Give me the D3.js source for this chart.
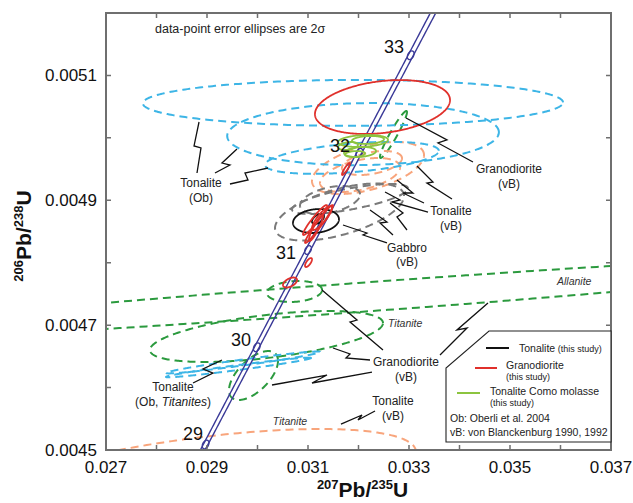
<!DOCTYPE html>
<html>
<head>
<meta charset="utf-8">
<script src="https://cdn.jsdelivr.net/npm/d3@7"></script>
<style>
  body { margin: 0; background: #fff; }
  svg { display: block; font-family: "Liberation Sans", Arial, Helvetica, sans-serif; }
</style>
</head>
<body>
<svg id="chart" width="633" height="503"></svg>
<script>
// ---- axes ----
const xDomain = [0.027, 0.037];
const yDomain = [0.0045, 0.0052];
const xTicksMajor = [0.027, 0.029, 0.031, 0.033, 0.035, 0.037];
const xTicksMinor = [0.028, 0.030, 0.032, 0.034, 0.036];
const yTicksMajor = [0.0045, 0.0047, 0.0049, 0.0051];
const yTicksMinor = [0.0046, 0.0048, 0.0050];

// ---- concordia ----
const concordiaAges = [29, 30, 31, 32, 33];          // Ma, labelled markers
const concordiaSpan = [28.5, 34.2];                  // Ma, drawn range
const lambda238 = 1.55125e-10, lambda235 = 9.8485e-10;
const lambdaEnvelope = 0.0016;                       // relative spread of the band

// ---- error ellipses: [207Pb/235U, 206Pb/238U, half-width x, half-width y, rho] ----
const tonaliteOb = [
  [0.03189, 0.005056, 0.00416, 0.0000368, 0.02],
  [0.03209, 0.005006, 0.00269, 0.0000497, 0.06],
  [0.03187, 0.004968, 0.00172, 0.0000256, 0.44]
];
const tonaliteObTitanite = [
  [0.029713, 0.0046402, 0.001525, 0.0000175, 0.962],
  [0.029624, 0.0046322, 0.001436, 0.0000157, 0.967]
];
const granodioriteVB = [
  [0.032693, 0.0050054, 0.000267, 0.0000376, 0.95],
  [0.030733, 0.0047539, 0.000545, 0.0000168, 0.15],
  [0.029921, 0.0046193, 0.000485, 0.0000392, 0.60],
  [0.030178, 0.0046818, 0.002307, 0.0000408, 0.53],   // titanite
  [0.031990, 0.0047443, 0.011188, 0.0000700, 0.943]   // allanite
];
const tonaliteVB = [
  [0.032188, 0.0049517, 0.001109, 0.0000416, 0.50],
  [0.032030, 0.0049405, 0.000792, 0.0000272, 0.45],
  [0.032267, 0.0049597, 0.000594, 0.0000192, 0.40],
  [0.028386, 0.0044415, 0.004752, 0.0000921, 0.60]    // titanite
];
const gabbroVB = [
  [0.031624, 0.0048812, 0.001277, 0.0000457, 0.56],
  [0.031832, 0.0049021, 0.001149, 0.0000240, 0.70],
  [0.031436, 0.0049005, 0.000594, 0.0000224, 0.40]
];
const tonaliteThisStudy = [
  [0.031158, 0.0048668, 0.000455, 0.0000192, 0.15],
  [0.031198, 0.0048700, 0.000119, 0.0000080, 0.50]
];
const granodioriteThisStudy = [
  [0.032475, 0.0050494, 0.001337, 0.0000432, 0.26],
  [0.031218, 0.0048620, 0.000277, 0.0000304, 0.97],
  [0.031139, 0.0048684, 0.000238, 0.0000240, 0.95],
  [0.031158, 0.0048556, 0.000139, 0.0000208, 0.90],
  [0.031277, 0.0048716, 0.000198, 0.0000192, 0.85],
  [0.031752, 0.0049501, 0.000079, 0.0000096, 0.90],
  [0.031010, 0.0048003, 0.000069, 0.0000072, 0.70],
  [0.030644, 0.0047683, 0.000139, 0.0000080, 0.50]
];
const comoMolasse = [
  [0.032089, 0.0049950, 0.000495, 0.0000096, 0.2],
  [0.032188, 0.0049966, 0.000317, 0.0000064, 0.2],
  [0.032030, 0.0049773, 0.000317, 0.0000080, 0.2],
  [0.031931, 0.0049741, 0.000198, 0.0000048, 0.2],
  [0.031792, 0.0049870, 0.000198, 0.0000064, 0.3]
];

// ---- annotation leaders (zig-zag), in ratio units ----
const leaders = [
  [[0.028842,0.0050254],[0.028743,0.0049870],[0.028881,0.0049838],[0.028802,0.0049437]],
  [[0.029594,0.0049822],[0.029297,0.0049597],[0.029455,0.0049565],[0.029158,0.0049437]],
  [[0.030208,0.0049517],[0.029752,0.0049437],[0.029812,0.0049325],[0.029455,0.0049261]],
  [[0.032941,0.0050318],[0.033752,0.0049966],[0.033574,0.0049918],[0.034267,0.0049613]],
  [[0.033158,0.0049549],[0.033475,0.0049293],[0.033356,0.0049277],[0.033851,0.0049021]],
  [[0.032762,0.0049325],[0.033079,0.0049117],[0.032881,0.0049117],[0.033297,0.0048957]],
  [[0.032525,0.0049133],[0.032822,0.0049005],[0.032663,0.0048973],[0.033376,0.0048812]],
  [[0.031693,0.0048604],[0.032168,0.0048476],[0.032089,0.0048444],[0.032564,0.0048316]],
  [[0.032228,0.0048844],[0.032564,0.0048652],[0.032426,0.0048636],[0.032683,0.0048444]],
  [[0.032624,0.0048957],[0.032881,0.0048796],[0.032762,0.0048732],[0.032960,0.0048524]],
  [[0.031277,0.0047563],[0.031970,0.0047082],[0.031832,0.0047050],[0.032485,0.0046602]],
  [[0.034564,0.0047355],[0.033950,0.0046922],[0.034149,0.0046954],[0.033614,0.0046522]],
  [[0.031495,0.0046634],[0.031832,0.0046538],[0.031752,0.0046474],[0.032228,0.0046442]],
  [[0.030287,0.0046041],[0.031376,0.0046201],[0.031079,0.0046073],[0.032267,0.0046249]],
  [[0.031653,0.0045416],[0.032069,0.0045561],[0.031990,0.0045481],[0.032327,0.0045625]],
  [[0.029297,0.0046442],[0.028921,0.0046297],[0.029119,0.0046233],[0.028723,0.0046073]]
];

// ---- sample labels (centred) ----
const sampleLabels = [
  ["Tonalite", 0.028881, 0.0049213], ["(Ob)", 0.028881, 0.0048973],
  ["Granodiorite", 0.034980, 0.0049437], ["(vB)", 0.034980, 0.0049197],
  ["Tonalite", 0.033832, 0.0048764], ["(vB)", 0.033832, 0.0048524],
  ["Gabbro", 0.032960, 0.0048172], ["(vB)", 0.032960, 0.0047947],
  ["Granodiorite", 0.032941, 0.0046346], ["(vB)", 0.032941, 0.0046105],
  ["Tonalite", 0.032683, 0.0045721], ["(vB)", 0.032683, 0.0045481],
  ["Tonalite", 0.028327, 0.0045945]
];
const mineralLabels = [
  ["Allanite", 0.035931, 0.0047643, "start"],
  ["Titanite", 0.032584, 0.0046970, "start"],
  ["Titanite", 0.030644, 0.0045400, "middle"]
];
const ageLabelPos = [
  [0.028921, 0.0045160], [0.029871, 0.0046666], [0.030762, 0.0048059],
  [0.031832, 0.0049773], [0.032901, 0.0051359]
];

// ---- layout ----
const margin = { left: 106, right: 22, top: 13, bottom: 53 };
const W = 633, H = 503;
const svg = d3.select("#chart");
const x = d3.scaleLinear().domain(xDomain).range([margin.left, W - margin.right]);
const y = d3.scaleLinear().domain(yDomain).range([H - margin.bottom, margin.top]);

const BLUE = "#3db5e6", GREEN = "#2b9a3e", ORANGE = "#f8a57c", GRAY = "#7a7a7a",
      RED = "#e0302b", LIME = "#8cc43f", NAVY = "#3b3a98", FRAME = "#6f6f6f";

svg.append("defs").append("clipPath").attr("id", "plotClip")
  .append("rect")
  .attr("x", x(xDomain[0])).attr("y", y(yDomain[1]))
  .attr("width", x(xDomain[1]) - x(xDomain[0]))
  .attr("height", y(yDomain[0]) - y(yDomain[1]));

function ellipsePoints([cx, cy, sx, sy, rho], n = 360) {
  const k = Math.sqrt(1 - rho * rho);
  return d3.range(n).map(i => {
    const t = 2 * Math.PI * i / n;
    return [cx + sx * Math.cos(t), cy + sy * (rho * Math.cos(t) + k * Math.sin(t))];
  });
}
const closed = d3.line().x(d => x(d[0])).y(d => y(d[1])).curve(d3.curveLinearClosed);
const open = d3.line().x(d => x(d[0])).y(d => y(d[1]));

const plot = svg.append("g").attr("clip-path", "url(#plotClip)");

function drawEllipses(data, color, dashed, width) {
  plot.append("g").selectAll("path").data(data).join("path")
    .attr("d", d => closed(ellipsePoints(d)))
    .attr("fill", "none")
    .attr("stroke", color)
    .attr("stroke-width", width)
    .attr("stroke-dasharray", dashed ? "8,5" : null);
}

// dashed literature data
drawEllipses(granodioriteVB, GREEN, true, 2);
drawEllipses(tonaliteVB, ORANGE, true, 2);
drawEllipses(gabbroVB, GRAY, true, 2);
drawEllipses(tonaliteOb, BLUE, true, 2);
drawEllipses(tonaliteObTitanite, BLUE, true, 2);

// concordia band
const conc = t => [Math.expm1(lambda235 * t * 1e6), Math.expm1(lambda238 * t * 1e6)];
const tSeries = d3.range(concordiaSpan[0], concordiaSpan[1], 0.02);
[-1, 1].forEach(s => {
  plot.append("path")
    .attr("d", open(tSeries.map(t => { const p = conc(t); return [p[0] * (1 + s * lambdaEnvelope), p[1]]; })))
    .attr("fill", "none").attr("stroke", NAVY).attr("stroke-width", 1.4);
});
// age markers, oriented along the curve
plot.append("g").selectAll("ellipse").data(concordiaAges).join("ellipse")
  .attr("transform", t => {
    const a = conc(t - 0.05), b = conc(t + 0.05), c = conc(t);
    const ang = Math.atan2(y(b[1]) - y(a[1]), x(b[0]) - x(a[0])) * 180 / Math.PI;
    return `translate(${x(c[0])},${y(c[1])}) rotate(${ang})`;
  })
  .attr("rx", 4.6).attr("ry", 2.9)
  .attr("fill", "none").attr("stroke", NAVY).attr("stroke-width", 1.4);

svg.append("g").selectAll("text").data(concordiaAges).join("text")
  .attr("x", (d, i) => x(ageLabelPos[i][0]))
  .attr("y", (d, i) => y(ageLabelPos[i][1]))
  .attr("text-anchor", "end").attr("font-size", 18).attr("fill", "#111")
  .text(d => d);

// this study
drawEllipses(tonaliteThisStudy, "#111", false, 1.8);
drawEllipses(granodioriteThisStudy, RED, false, 1.8);
drawEllipses(comoMolasse, LIME, false, 1.8);

// leaders
svg.append("g").selectAll("path").data(leaders).join("path")
  .attr("d", d => open(d))
  .attr("fill", "none").attr("stroke", "#111").attr("stroke-width", 1.3)
  .attr("stroke-linejoin", "miter");

// labels
svg.append("g").selectAll("text").data(sampleLabels).join("text")
  .attr("x", d => x(d[1])).attr("y", d => y(d[2]))
  .attr("text-anchor", "middle").attr("font-size", 12).attr("fill", "#222")
  .text(d => d[0]);
const obTit = svg.append("text")
  .attr("x", x(0.028327)).attr("y", y(0.0045705))
  .attr("text-anchor", "middle").attr("font-size", 12).attr("fill", "#222");
obTit.append("tspan").text("(Ob, ");
obTit.append("tspan").attr("font-style", "italic").text("Titanites");
obTit.append("tspan").text(")");

svg.append("g").selectAll("text").data(mineralLabels).join("text")
  .attr("x", d => x(d[1])).attr("y", d => y(d[2]))
  .attr("text-anchor", d => d[3]).attr("font-size", 10.5)
  .attr("font-style", "italic").attr("fill", "#333")
  .text(d => d[0]);

svg.append("text")
  .attr("x", x(0.027970)).attr("y", y(0.0051680))
  .attr("font-size", 12.5).attr("fill", "#222")
  .text("data-point error ellipses are 2σ");

// ---- frame & axes ----
const x0 = x(xDomain[0]), x1 = x(xDomain[1]), y0 = y(yDomain[0]), y1 = y(yDomain[1]);
const allX = xTicksMajor.concat(xTicksMinor), allY = yTicksMajor.concat(yTicksMinor);
const axisG = svg.append("g").attr("stroke", FRAME).attr("stroke-width", 1.5);
axisG.selectAll(".tb").data(allX).join("path")
  .attr("d", d => `M${x(d)},${y0}V${y0 - 5}M${x(d)},${y1}V${y1 + 5}`);
axisG.selectAll(".tl").data(allY).join("path")
  .attr("d", d => `M${x0},${y(d)}H${x0 + 5}M${x1},${y(d)}H${x1 - 5}`);
svg.append("rect")
  .attr("x", x0).attr("y", y1).attr("width", x1 - x0).attr("height", y0 - y1)
  .attr("fill", "none").attr("stroke", FRAME).attr("stroke-width", 2);

svg.append("g").selectAll("text").data(xTicksMajor).join("text")
  .attr("x", d => x(d)).attr("y", y0 + 23)
  .attr("text-anchor", "middle").attr("font-size", 17).attr("fill", "#111")
  .text(d3.format(".3f"));
svg.append("g").selectAll("text").data(yTicksMajor).join("text")
  .attr("x", x0 - 9).attr("y", d => y(d) + 6)
  .attr("text-anchor", "end").attr("font-size", 17).attr("fill", "#111")
  .text(d3.format(".4f"));

function ratioTitle(sel, a, b) {
  sel.attr("font-weight", "bold").attr("font-size", 21).attr("fill", "#111");
  sel.append("tspan").attr("font-size", 13).attr("dy", -8).text(a);
  sel.append("tspan").attr("dy", 8).text("Pb/");
  sel.append("tspan").attr("font-size", 13).attr("dy", -8).text(b);
  sel.append("tspan").attr("dy", 8).text("U");
}
ratioTitle(svg.append("text").attr("x", (x0 + x1) / 2 + 4).attr("y", 497).attr("text-anchor", "middle"), "207", "235");
ratioTitle(svg.append("text").attr("transform", `translate(31,236) rotate(-90)`).attr("text-anchor", "middle"), "206", "238");

// ---- legend ----
const lg = svg.append("g").attr("transform", `translate(446,331)`);
lg.append("path")
  .attr("d", `M43,0H${x1 - 446}V111H0V37Z`)
  .attr("fill", "#fff").attr("stroke", "#222").attr("stroke-width", 1.1);
const legendRows = [
  { color: "#111", x1: 40, x2: 63, ly: 17, name: "Tonalite", tx: 73, ty: 21, inline: true },
  { color: RED, x1: 29, x2: 51, ly: 37, name: "Granodiorite", tx: 60, ty: 38, inline: false, sy: 49 },
  { color: LIME, x1: 11, x2: 34, ly: 62, name: "Tonalite Como molasse", tx: 44, ty: 64, inline: false, sy: 75 }
];
legendRows.forEach(r => {
  lg.append("line").attr("x1", r.x1).attr("x2", r.x2).attr("y1", r.ly).attr("y2", r.ly)
    .attr("stroke", r.color).attr("stroke-width", 2);
  const t = lg.append("text").attr("x", r.tx).attr("y", r.ty).attr("font-size", 10.5).attr("fill", "#222");
  t.append("tspan").text(r.name);
  if (r.inline) t.append("tspan").attr("font-size", 9).text(" (this study)");
  else lg.append("text").attr("x", r.tx).attr("y", r.sy).attr("font-size", 9).attr("fill", "#222").text("(this study)");
});
lg.append("text").attr("x", 4).attr("y", 91).attr("font-size", 10.5).attr("fill", "#222").text("Ob: Oberli et al. 2004");
lg.append("text").attr("x", 4).attr("y", 105).attr("font-size", 10.5).attr("fill", "#222").text("vB: von Blanckenburg 1990, 1992");
</script>
</body>
</html>
